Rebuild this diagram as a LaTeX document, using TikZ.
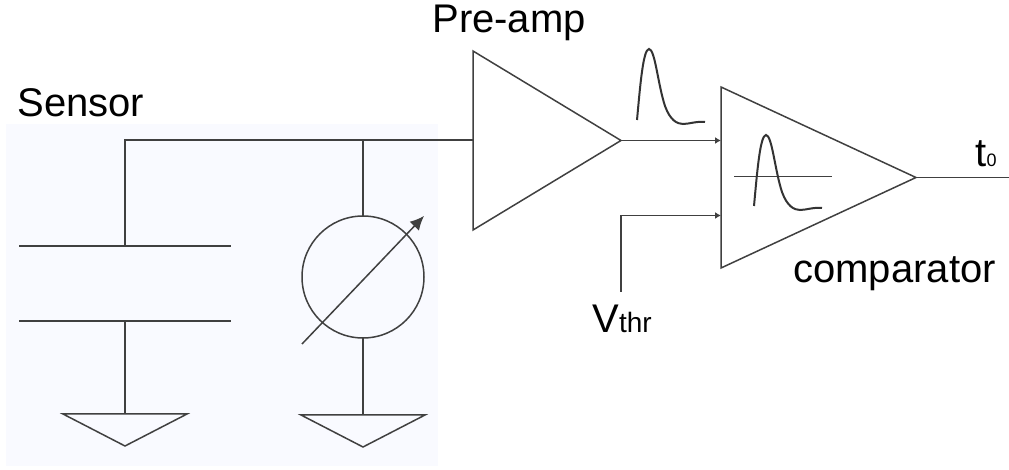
\documentclass[tikz,border=0pt]{standalone}
\usepackage{fontspec}
\setmainfont{Liberation Sans}
\usetikzlibrary{arrows.meta,positioning,shapes.geometric,calc}
\definecolor{scInk}{HTML}{404040}
\definecolor{scSensor}{HTML}{F9FAFF}
\tikzset{
  wire/.style={draw=scInk,line width=.75pt},
  link/.style={wire,-{Latex[length=3pt,width=3.5pt]}},
  tune/.style={wire,-{Latex[length=7pt,width=6.5pt]}},
  amp/.style={wire,isosceles triangle,isosceles triangle stretches,inner sep=0pt,outer sep=0pt},
  ground/.style={amp,shape border rotate=270,minimum width=62pt,minimum height=16pt},
  label/.style={font=\fontsize{20}{24}\selectfont,text=black,inner sep=0pt,anchor=base west},
  pulse/.pic={
    \draw[wire,line width=1pt,draw=scInk!80!black] (0,0) .. controls (3,-32) and (6,-71) .. (12,-71)
      .. controls (18,-71) and (21,-35) .. (28,-14)
      .. controls (33,0) and (40,4) .. (46,4)
      .. controls (52,4) and (60,1) .. (68,2);
  },
}
\begin{document}
\begin{tikzpicture}[x=.5pt,y=-.5pt]
  \useasboundingbox (0,0) rectangle (1009,470);
  \fill[scSensor] (6,124) rectangle (438,466);
  \node[amp,minimum width=89.5pt,minimum height=74pt,anchor=lower side] (preamp) at (473,140.5) {};
  \node[amp,minimum width=90.5pt,minimum height=97.5pt,anchor=lower side] (comp) at (721,177.5) {};
  \node[label] (lpre) at (432,33) {Pre-amp};
  \node[label] (lsens) at (17,117) {Sensor};
  \node[label] (lcomp) at (793,283) {comparator};
  \node[label] (lthr) at (592,333) {V{\fontsize{14}{16}\selectfont thr}};
  \node[label] (lout) at (975,167) {t{\fontsize{9}{11}\selectfont 0}};
  % capacitor and current source
  \coordinate (top) at (125,140);
  \coordinate (plateA) at (125,246);
  \coordinate (plateB) at (125,321);
  \draw[wire] (19,246) -- (231,246);
  \draw[wire] (19,321) -- (231,321);
  \node[wire,circle,minimum size=61pt,inner sep=0pt,outer sep=0pt] (isrc) at (363,277) {};
  \node[ground,anchor=lower side] (gndA) at (125,414) {};
  \node[ground,anchor=lower side] (gndB) at (363,415) {};
  \draw[wire] (plateA) -- (top) -- (preamp.lower side |- top);
  \draw[wire] (plateB) -- (gndA.lower side);
  \draw[wire] (isrc.north) -- (isrc.north |- top);
  \draw[wire] (isrc.south) -- (gndB.lower side);
  \coordinate (tuneA) at (302,344);
  \coordinate (tuneB) at (424,216);
  \draw[tune] (tuneA) -- (tuneB);
  % comparator inputs and output
  \coordinate (cmpA) at (comp.lower side |- preamp.apex);
  \coordinate (cmpB) at (721,215.5);
  \coordinate (thr) at (621,292);
  \coordinate (outEnd) at (1009,177.5);
  \draw[link] (preamp.apex) -- (cmpA);
  \draw[link] (thr) |- (cmpB);
  \draw[wire] (comp.apex) -- (outEnd);
  \coordinate (levelA) at (734,176.5);
  \coordinate (levelB) at (832,176.5);
  \draw[wire] (levelA) -- (levelB);
  \pic at (637,120) {pulse};
  \pic at (754,206) {pulse};
\end{tikzpicture}
\end{document}
